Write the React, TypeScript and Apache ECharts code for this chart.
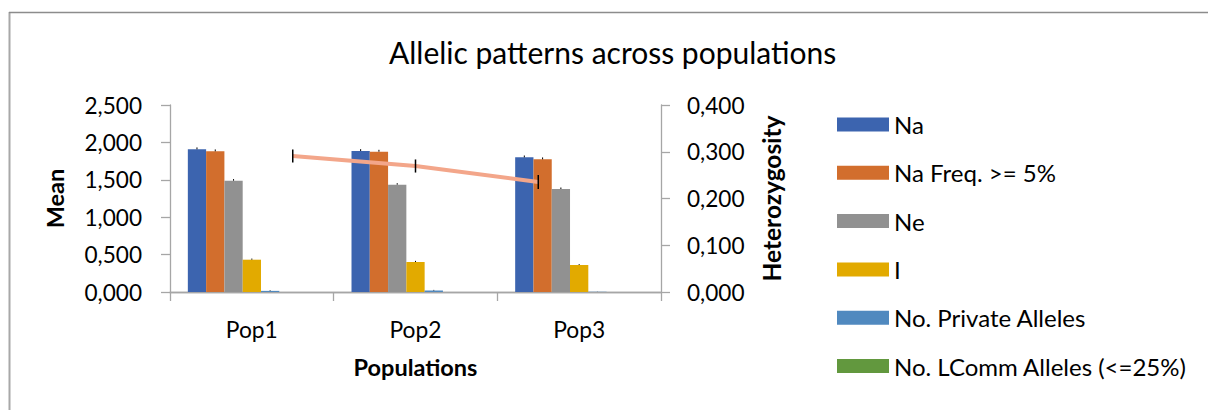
import React, { useEffect, useRef } from "react";
import * as echarts from "echarts";

const categories = ["Pop1", "Pop2", "Pop3"];
const seriesNames = ["Na", "Na Freq. >= 5%", "Ne", "I", "No. Private Alleles", "No. LComm Alleles (<=25%)"];
const seriesColors = ["#3C64AF", "#D26E2D", "#919191", "#E2AA00", "#5089BF", "#62983E"];
const naValues = [1.908, 1.885, 1.8];
const naFreqValues = [1.881, 1.876, 1.774];
const neValues = [1.488, 1.435, 1.377];
const iValues = [0.432, 0.401, 0.361];
const privateValues = [0.015, 0.02, 0.003];
const lcommValues = [0, 0, 0];
const naErrors = [0.025, 0.025, 0.025];
const naFreqErrors = [0.025, 0.025, 0.025];
const neErrors = [0.022, 0.02, 0.02];
const iErrors = [0.015, 0.015, 0.012];
const privateErrors = [0.008, 0.008, 0.002];
const lcommErrors = [0, 0, 0];
const heName = "He";
const heCategories = ["", "Pop1", "Pop2", "Pop3", ""];
const heValues = ["-", 0.291, 0.2695, 0.2353, "-"];
const heErrors = [0, 0.014, 0.014, 0.015, 0];
const leftTickLabels = ["0,000", "0,500", "1,000", "1,500", "2,000", "2,500"];
const rightTickLabels = ["0,000", "0,100", "0,200", "0,300", "0,400"];

const FONT = "Lato";
const SLOTS = 7;
const GAP = 0.218;
const AXIS_COLOR = "#A6A6A6";

export default function App() {
  const ref = useRef<HTMLDivElement>(null);
  useEffect(() => {
    if (!ref.current) return;
    const chart = echarts.init(ref.current, undefined, { renderer: "svg" });
    const valueSets = [naValues, naFreqValues, neValues, iValues, privateValues, lcommValues];
    const errorSets = [naErrors, naFreqErrors, neErrors, iErrors, privateErrors, lcommErrors];
    const barSeries: any[] = seriesNames.map((name, k) => ({
      name,
      type: "bar",
      xAxisIndex: 0,
      yAxisIndex: 0,
      barGap: "0%",
      barCategoryGap: GAP * 100 + "%",
      itemStyle: { color: seriesColors[k] },
      data: valueSets[k],
    }));
    barSeries.push({
      name: "__spare",
      type: "bar",
      xAxisIndex: 0,
      yAxisIndex: 0,
      barGap: "0%",
      barCategoryGap: GAP * 100 + "%",
      data: ["-", "-", "-"],
    });
    const errData: any[] = [];
    valueSets.forEach((vals, s) =>
      vals.forEach((v, c) => {
        if (errorSets[s][c] > 0) errData.push([c, v, s, errorSets[s][c]]);
      })
    );
    const heErrData: any[] = [];
    heValues.forEach((v, i) => {
      if (v !== "-") heErrData.push([i, v, heErrors[i]]);
    });
    chart.setOption({
      animation: false,
      textStyle: { fontFamily: FONT },
      title: {
        text: "Allelic patterns across populations",
        left: 389,
        top: 36.5,
        padding: 0,
        textStyle: { fontFamily: FONT, fontSize: 30, fontWeight: "normal", color: "#000" },
      },
      legend: {
        orient: "vertical",
        left: 832,
        top: 107,
        itemWidth: 52,
        itemHeight: 14,
        itemGap: 23.3,
        icon: "rect",
        data: seriesNames,
        textStyle: { fontFamily: FONT, fontSize: 24, lineHeight: 25, color: "#000" },
      },
      grid: { left: 170, right: 547, top: 105, bottom: 118, containLabel: false },
      xAxis: [
        {
          type: "category",
          data: categories,
          position: "bottom",
          axisLine: { show: true, lineStyle: { color: AXIS_COLOR, width: 1.3 } },
          axisTick: { show: true, length: 9, lineStyle: { color: AXIS_COLOR, width: 1.3 } },
          axisLabel: { fontFamily: FONT, fontSize: 22.8, color: "#000", margin: 25 },
          name: "Populations",
          nameLocation: "middle",
          nameGap: 63,
          nameTextStyle: { fontFamily: FONT, fontSize: 23.5, fontWeight: "bold", color: "#000" },
        },
        {
          type: "category",
          data: heCategories,
          position: "top",
          boundaryGap: false,
          axisLine: { show: true, lineStyle: { color: AXIS_COLOR, width: 1.3 } },
          axisTick: { show: false },
          axisLabel: { show: false },
          splitLine: { show: false },
        },
      ],
      yAxis: [
        {
          type: "value",
          min: 0,
          max: 2.5,
          interval: 0.5,
          position: "left",
          axisLine: { show: true, lineStyle: { color: AXIS_COLOR, width: 1.3 } },
          axisTick: { show: true, length: 9, lineStyle: { color: AXIS_COLOR, width: 1.3 } },
          splitLine: { show: false },
          axisLabel: {
            fontFamily: FONT,
            fontSize: 22.6,
            color: "#000",
            margin: 28,
            formatter: (v: number) => leftTickLabels[Math.round(v / 0.5)],
          },
          name: "Mean",
          nameLocation: "middle",
          nameGap: 103,
          nameTextStyle: { fontFamily: FONT, fontSize: 23.5, fontWeight: "bold", color: "#000" },
        },
        {
          type: "value",
          min: 0,
          max: 0.4,
          interval: 0.1,
          position: "right",
          axisLine: { show: true, lineStyle: { color: AXIS_COLOR, width: 1.3 } },
          axisTick: { show: true, length: 9, lineStyle: { color: AXIS_COLOR, width: 1.3 } },
          splitLine: { show: false },
          axisLabel: {
            fontFamily: FONT,
            fontSize: 22.6,
            color: "#000",
            margin: 26,
            formatter: (v: number) => rightTickLabels[Math.round(v / 0.1)],
          },
          name: "Heterozygosity",
          nameLocation: "middle",
          nameGap: 98,
          nameTextStyle: { fontFamily: FONT, fontSize: 24.5, fontWeight: "bold", color: "#000" },
        },
      ],
      graphic: [
        { type: "line", shape: { x1: 9.5, y1: 12, x2: 9.5, y2: 410 }, style: { stroke: "#A8A8A8", lineWidth: 2 } },
        { type: "line", shape: { x1: 9, y1: 12.5, x2: 1208, y2: 12.5 }, style: { stroke: "#8C8C8C", lineWidth: 1.5 } },
      ],
      series: [
        ...barSeries,
        {
          name: "barErrors",
          type: "custom",
          xAxisIndex: 0,
          yAxisIndex: 0,
          encode: { x: 0, y: 1 },
          z: 5,
          renderItem: (params: any, api: any) => {
            const c = api.value(0);
            const v = api.value(1);
            const s = api.value(2);
            const e = api.value(3);
            const base = api.coord([c, v]);
            const top = api.coord([c, v + e]);
            const band = api.size([1, 0])[0];
            const bw = (band * (1 - GAP)) / SLOTS;
            const x = base[0] + (s - (SLOTS - 1) / 2) * bw;
            return {
              type: "line",
              shape: { x1: x, y1: base[1], x2: x, y2: top[1] },
              style: { stroke: "#000", lineWidth: 1 },
            };
          },
          data: errData,
        },
        {
          name: heName,
          type: "line",
          xAxisIndex: 1,
          yAxisIndex: 1,
          symbol: "none",
          z: 6,
          lineStyle: { color: "#F3A68A", width: 4 },
          data: heValues,
        },
        {
          name: "heErrors",
          type: "custom",
          xAxisIndex: 1,
          yAxisIndex: 1,
          encode: { x: 0, y: 1 },
          z: 7,
          renderItem: (params: any, api: any) => {
            const x = api.value(0);
            const v = api.value(1);
            const e = api.value(2);
            const lo = api.coord([x, v - e]);
            const hi = api.coord([x, v + e]);
            return {
              type: "line",
              shape: { x1: lo[0], y1: lo[1], x2: hi[0], y2: hi[1] },
              style: { stroke: "#000", lineWidth: 1.5 },
            };
          },
          data: heErrData,
        },
      ],
    });
    return () => chart.dispose();
  }, []);
  return (
    <div style={{ position: "absolute", left: 0, top: 0, width: 1208, height: 410, background: "#fff" }}>
      <div ref={ref} style={{ width: 1208, height: 410 }} />
    </div>
  );
}
